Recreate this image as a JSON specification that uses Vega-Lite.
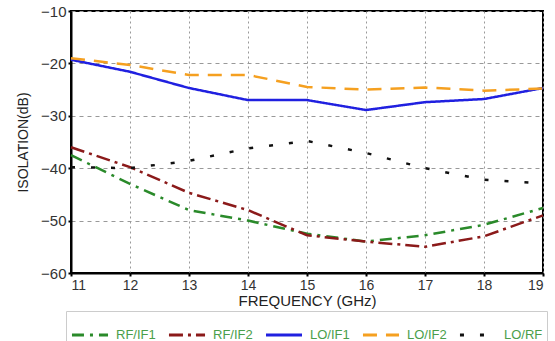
{
  "$schema": "https://vega.github.io/schema/vega-lite/v6.json",
  "autosize": {"type": "none"},
  "width": 472,
  "height": 262,
  "padding": {"left": 71, "top": 11, "right": 12, "bottom": 68},
  "background": "white",
  "config": {
    "view": {"stroke": "black", "strokeWidth": 2},
    "font": "Liberation Sans"
  },
  "data": {
    "values": [
      {"f": 11, "v": -37.5, "s": "RF/IF1"},
      {"f": 12, "v": -43, "s": "RF/IF1"},
      {"f": 13, "v": -48, "s": "RF/IF1"},
      {"f": 14, "v": -50, "s": "RF/IF1"},
      {"f": 15, "v": -52.5, "s": "RF/IF1"},
      {"f": 16, "v": -54, "s": "RF/IF1"},
      {"f": 17, "v": -52.8, "s": "RF/IF1"},
      {"f": 18, "v": -50.8, "s": "RF/IF1"},
      {"f": 19, "v": -47.6, "s": "RF/IF1"},
      {"f": 11, "v": -36, "s": "RF/IF2"},
      {"f": 12, "v": -39.8, "s": "RF/IF2"},
      {"f": 13, "v": -44.7, "s": "RF/IF2"},
      {"f": 14, "v": -48, "s": "RF/IF2"},
      {"f": 15, "v": -52.8, "s": "RF/IF2"},
      {"f": 16, "v": -54, "s": "RF/IF2"},
      {"f": 17, "v": -55, "s": "RF/IF2"},
      {"f": 18, "v": -53, "s": "RF/IF2"},
      {"f": 19, "v": -49, "s": "RF/IF2"},
      {"f": 11, "v": -19.3, "s": "LO/IF1"},
      {"f": 12, "v": -21.6, "s": "LO/IF1"},
      {"f": 13, "v": -24.7, "s": "LO/IF1"},
      {"f": 14, "v": -27, "s": "LO/IF1"},
      {"f": 15, "v": -27, "s": "LO/IF1"},
      {"f": 16, "v": -28.9, "s": "LO/IF1"},
      {"f": 17, "v": -27.4, "s": "LO/IF1"},
      {"f": 18, "v": -26.8, "s": "LO/IF1"},
      {"f": 19, "v": -24.7, "s": "LO/IF1"},
      {"f": 11, "v": -19, "s": "LO/IF2"},
      {"f": 12, "v": -20.3, "s": "LO/IF2"},
      {"f": 13, "v": -22.2, "s": "LO/IF2"},
      {"f": 14, "v": -22.2, "s": "LO/IF2"},
      {"f": 15, "v": -24.5, "s": "LO/IF2"},
      {"f": 16, "v": -25, "s": "LO/IF2"},
      {"f": 17, "v": -24.6, "s": "LO/IF2"},
      {"f": 18, "v": -25.2, "s": "LO/IF2"},
      {"f": 19, "v": -24.8, "s": "LO/IF2"},
      {"f": 11, "v": -39.8, "s": "LO/RF"},
      {"f": 12, "v": -40, "s": "LO/RF"},
      {"f": 13, "v": -38.6, "s": "LO/RF"},
      {"f": 14, "v": -36.2, "s": "LO/RF"},
      {"f": 15, "v": -34.8, "s": "LO/RF"},
      {"f": 16, "v": -37.1, "s": "LO/RF"},
      {"f": 17, "v": -40, "s": "LO/RF"},
      {"f": 18, "v": -42.2, "s": "LO/RF"},
      {"f": 19, "v": -42.9, "s": "LO/RF"}
    ]
  },
  "mark": {"type": "line", "strokeWidth": 2.5},
  "encoding": {
    "x": {
      "field": "f", "type": "quantitative",
      "scale": {"domain": [11, 19], "nice": false},
      "axis": {
        "title": "FREQUENCY (GHz)", "values": [11,12,13,14,15,16,17,18,19],
        "grid": true, "gridDash": [2, 3], "gridColor": "#999", "gridWidth": 1,
        "domainColor": "black", "domainWidth": 2,
        "tickColor": "black", "tickSize": 3, "tickWidth": 2, "ticks": true,
        "labelFontSize": 14, "labelColor": "#333", "labelPadding": 2,
        "titleFontSize": 15, "titleColor": "#222", "titleFontWeight": "normal", "titlePadding": 1
      }
    },
    "y": {
      "field": "v", "type": "quantitative",
      "scale": {"domain": [-60, -10], "nice": false},
      "axis": {
        "title": "ISOLATION(dB)", "values": [-60,-50,-40,-30,-20,-10],
        "grid": true, "gridDash": [4, 4], "gridColor": "#999", "gridWidth": 1,
        "domainColor": "black", "domainWidth": 2,
        "tickColor": "black", "tickSize": 3, "tickWidth": 2,
        "labelFontSize": 15, "labelColor": "#333", "labelPadding": 2,
        "titleFontSize": 14, "titleColor": "#222", "titleFontWeight": "normal", "titlePadding": 10
      }
    },
    "color": {
      "field": "s", "type": "nominal", "title": null,
      "sort": ["RF/IF1", "RF/IF2", "LO/IF1", "LO/IF2", "LO/RF"],
      "scale": {
        "domain": ["RF/IF1", "RF/IF2", "LO/IF1", "LO/IF2", "LO/RF"],
        "range": ["#2a8a2a", "#8b1a1a", "#2020e0", "#f5a020", "#111111"]
      },
      "legend": {
        "orient": "none", "legendX": -5, "legendY": 300,
        "direction": "horizontal", "columns": 5,
        "symbolType": "stroke", "symbolSize": 1300, "symbolStrokeWidth": 3,
        "labelColor": "#4a9e4a", "labelFontSize": 13, "labelOffset": 6,
        "columnPadding": 6,
        "strokeColor": "#ccc", "fillColor": "white", "padding": 4
      }
    },
    "strokeDash": {
      "field": "s", "type": "nominal", "title": null,
      "sort": ["RF/IF1", "RF/IF2", "LO/IF1", "LO/IF2", "LO/RF"],
      "scale": {
        "domain": ["RF/IF1", "RF/IF2", "LO/IF1", "LO/IF2", "LO/RF"],
        "range": [[12, 6, 3, 6], [14, 5, 3, 5], [1, 0], [14, 9], [4, 16]]
      }
    }
  }
}
